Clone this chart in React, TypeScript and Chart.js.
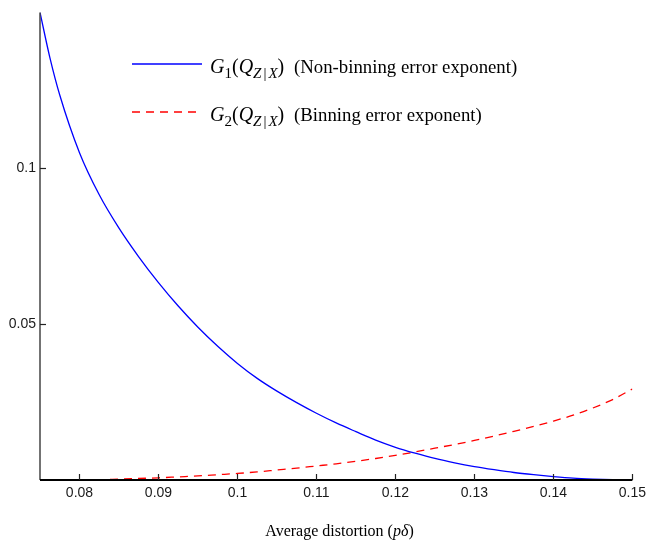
import React, { useEffect, useRef } from "react";
import { Chart, registerables } from "chart.js";

Chart.register(...registerables);

const distortion = [
  0.075, 0.07625, 0.0775, 0.08, 0.0825, 0.085, 0.0875, 0.09, 0.0925, 0.095, 0.0975,
  0.1, 0.1025, 0.105, 0.1075, 0.11, 0.1125, 0.115, 0.1175, 0.12, 0.1225,
  0.125, 0.1275, 0.13, 0.1325, 0.135, 0.1375, 0.14, 0.1425, 0.145, 0.1475, 0.15,
];
const nonBinning = [
  0.1500, 0.1355, 0.1235, 0.1050, 0.0915, 0.0808, 0.0716, 0.0633, 0.0558, 0.0490, 0.0429,
  0.0374, 0.0326, 0.0285, 0.0248, 0.0214, 0.0183, 0.0155, 0.0128, 0.0105, 0.0086,
  0.0069, 0.0055, 0.0043, 0.0033, 0.0024, 0.0017, 0.0011, 0.0006, 0.0003, 0.0001, 0.0,
];
const binning = [
  0, 0, 0, 0.00005, 0.0001, 0.0003, 0.0005, 0.0007, 0.0010, 0.0013, 0.0017,
  0.0021, 0.0026, 0.0032, 0.0038, 0.0045, 0.0052, 0.0060, 0.0069, 0.0079, 0.0090,
  0.0102, 0.0114, 0.0127, 0.0141, 0.0156, 0.0172, 0.0189, 0.0208, 0.0231, 0.0258, 0.0292,
];
const xTicks = [0.08, 0.09, 0.1, 0.11, 0.12, 0.13, 0.14, 0.15];
const yTicks = [0.05, 0.1];

const BLUE = "#0000ff";
const RED = "#ff0000";
const DASH = [8, 6];

const axesPlugin = {
  id: "matlabAxes",
  afterDraw(chart: any) {
    const { ctx, chartArea } = chart;
    const xs = chart.scales.x;
    const ys = chart.scales.y;
    ctx.save();
    ctx.strokeStyle = "#444";
    ctx.lineWidth = 1.5;
    ctx.beginPath();
    ctx.moveTo(chartArea.left, chartArea.top);
    ctx.lineTo(chartArea.left, chartArea.bottom);
    ctx.stroke();
    ctx.strokeStyle = "#000";
    ctx.lineWidth = 2;
    ctx.beginPath();
    ctx.moveTo(chartArea.left, chartArea.bottom);
    ctx.lineTo(chartArea.right, chartArea.bottom);
    ctx.stroke();
    ctx.lineWidth = 1.2;
    ctx.strokeStyle = "#222";
    xTicks.forEach((v) => {
      const px = Math.round(xs.getPixelForValue(v)) + 0.5;
      ctx.beginPath();
      ctx.moveTo(px, chartArea.bottom);
      ctx.lineTo(px, chartArea.bottom - 6);
      ctx.stroke();
    });
    yTicks.forEach((v) => {
      const py = Math.round(ys.getPixelForValue(v)) + 0.5;
      ctx.beginPath();
      ctx.moveTo(chartArea.left, py);
      ctx.lineTo(chartArea.left + 6, py);
      ctx.stroke();
    });
    ctx.lineWidth = 1.3;
    ctx.strokeStyle = BLUE;
    ctx.beginPath();
    ctx.moveTo(132, 64);
    ctx.lineTo(202, 64);
    ctx.stroke();
    ctx.strokeStyle = RED;
    ctx.setLineDash(DASH);
    ctx.beginPath();
    ctx.moveTo(132, 112);
    ctx.lineTo(202, 112);
    ctx.stroke();
    ctx.restore();
  },
};

export default function App() {
  const canvasRef = useRef<HTMLCanvasElement | null>(null);

  useEffect(() => {
    if (!canvasRef.current) return;
    const chart = new Chart(canvasRef.current, {
      type: "line",
      data: {
        datasets: [
          {
            label: "G1",
            data: distortion.map((x, i) => ({ x, y: nonBinning[i] })),
            borderColor: BLUE,
            borderWidth: 1.3,
            pointRadius: 0,
            cubicInterpolationMode: "monotone",
            fill: false,
          },
          {
            label: "G2",
            data: distortion.map((x, i) => ({ x, y: binning[i] })),
            borderColor: RED,
            borderWidth: 1.3,
            borderDash: DASH,
            pointRadius: 0,
            cubicInterpolationMode: "monotone",
            fill: false,
          },
        ],
      },
      options: {
        animation: false,
        responsive: false,
        maintainAspectRatio: false,
        layout: { padding: { top: 11, right: 16, left: 0, bottom: 0 } },
        plugins: { legend: { display: false }, tooltip: { enabled: false } },
        scales: {
          x: {
            type: "linear",
            min: 0.075,
            max: 0.15,
            grid: { display: false, drawTicks: false },
            border: { display: false },
            afterBuildTicks: (scale: any) => {
              scale.ticks = xTicks.map((v) => ({ value: v }));
            },
            afterFit: (scale: any) => {
              scale.height = 61;
            },
            ticks: {
              padding: 5,
              color: "#1a1a1a",
              font: { family: "Liberation Sans", size: 14 },
              callback: (v: any) => String(Number(v.toFixed(3))),
            },
          },
          y: {
            type: "linear",
            min: 0,
            max: 0.15,
            grid: { display: false, drawTicks: false },
            border: { display: false },
            afterBuildTicks: (scale: any) => {
              scale.ticks = yTicks.map((v) => ({ value: v }));
            },
            afterFit: (scale: any) => {
              scale.width = 40;
            },
            ticks: {
              padding: 4,
              color: "#1a1a1a",
              font: { family: "Liberation Sans", size: 14 },
              callback: (v: any) => String(Number(v.toFixed(3))),
            },
          },
        },
      },
      plugins: [axesPlugin],
    } as any);
    return () => chart.destroy();
  }, []);

  const serif = "'Liberation Serif', 'Times New Roman', serif";
  const subStyle: React.CSSProperties = { fontSize: "75%", verticalAlign: "-0.3em", lineHeight: 0 };
  const bar: React.CSSProperties = { margin: "0 2px", fontStyle: "normal" };
  const mathBox: React.CSSProperties = { display: "inline-block", width: 84, fontSize: 20 };
  const legendText: React.CSSProperties = {
    position: "absolute", left: 210, fontFamily: serif, fontSize: 18.8, lineHeight: "22px", whiteSpace: "nowrap", color: "#000",
  };

  return (
    <div style={{ position: "absolute", left: 0, top: 0, width: 651, height: 541, background: "#fff" }}>
      <canvas ref={canvasRef} width={651} height={541} style={{ display: "block", width: 651, height: 541 }} />
      <div style={{ ...legendText, top: 55 }}>
        <span style={mathBox}>
          <i>G</i><span style={subStyle}>1</span>(<i>Q</i><span style={subStyle}><i>Z</i><span style={bar}>|</span><i>X</i></span>)
        </span>
        (Non-binning error exponent)
      </div>
      <div style={{ ...legendText, top: 103 }}>
        <span style={mathBox}>
          <i>G</i><span style={subStyle}>2</span>(<i>Q</i><span style={subStyle}><i>Z</i><span style={bar}>|</span><i>X</i></span>)
        </span>
        (Binning error exponent)
      </div>
      <div style={{ position: "absolute", left: 0, width: 679, top: 521, textAlign: "center", fontFamily: serif, fontSize: 16, lineHeight: "20px", whiteSpace: "nowrap", color: "#000" }}>
        Average distortion (<i>pδ</i>)
      </div>
    </div>
  );
}
